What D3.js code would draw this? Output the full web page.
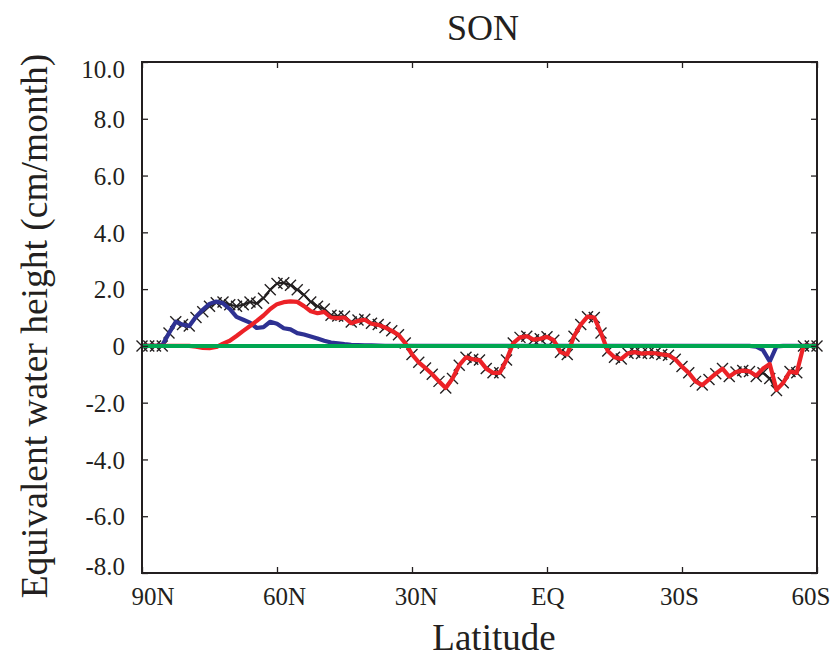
<!DOCTYPE html>
<html>
<head>
<meta charset="utf-8">
<script src="https://cdn.jsdelivr.net/npm/d3@7"></script>
<style>
  html, body { margin: 0; padding: 0; background: #fff; }
  svg { display: block; }
  text { font-family: "Liberation Serif", "Times New Roman", serif; fill: #231f20; }
</style>
</head>
<body>
<svg id="chart" width="838" height="661"></svg>
<script>
// Latitude grid: 90N to 60S every 1.5 degrees (positive = north)
const latitudes = d3.range(90, -60.001, -1.5);

// Total (black line with x markers)
const total = [
  0, 0, 0, 0, 0.45, 0.85, 0.75, 0.7, 1.0, 1.2,
  1.4, 1.52, 1.55, 1.45, 1.4, 1.45, 1.55, 1.5, 1.68, 1.98,
  2.2, 2.22, 2.14, 1.98, 1.8, 1.55, 1.4, 1.3, 1.08, 1.05,
  1.04, 0.84, 0.91, 0.94, 0.8, 0.75, 0.65, 0.53, 0.39, 0.1,
  -0.3, -0.58, -0.78, -1.0, -1.25, -1.48, -1.15, -0.68, -0.4, -0.47,
  -0.5, -0.8, -0.95, -0.95, -0.5, 0.1, 0.3, 0.34, 0.22, 0.25,
  0.32, 0.2, -0.22, -0.3, 0.34, 0.75, 1.03, 1.0, 0.45, -0.18,
  -0.4, -0.46, -0.26, -0.22, -0.27, -0.25, -0.26, -0.3, -0.33, -0.47,
  -0.73, -0.95, -1.25, -1.38, -1.18, -0.98, -0.8, -1.08, -0.92, -0.87,
  -0.9, -1.08, -0.95, -1.15, -1.57, -1.3, -0.9, -0.95, 0, 0, 0
];

// Red component
const redSeries = [
  0, 0, 0, 0, 0, 0, 0, 0, -0.03, -0.07,
  -0.08, -0.04, 0.08, 0.18, 0.35, 0.53, 0.7, 0.88, 1.07, 1.3,
  1.47, 1.54, 1.57, 1.55, 1.4, 1.22, 1.15, 1.2, 1.0, 0.98,
  1.0, 0.8, 0.88, 0.92, 0.78, 0.74, 0.65, 0.53, 0.39, 0.1,
  -0.3, -0.58, -0.78, -1.0, -1.25, -1.48, -1.15, -0.68, -0.4, -0.47,
  -0.5, -0.8, -0.95, -0.95, -0.5, 0.1, 0.3, 0.34, 0.22, 0.25,
  0.32, 0.2, -0.22, -0.3, 0.34, 0.75, 1.03, 1.0, 0.45, -0.18,
  -0.4, -0.46, -0.26, -0.22, -0.27, -0.25, -0.26, -0.3, -0.33, -0.47,
  -0.73, -0.95, -1.25, -1.38, -1.18, -0.98, -0.8, -1.08, -0.92, -0.87,
  -0.9, -1.05, -0.8, -0.64, -1.55, -1.3, -0.9, -0.95, 0, 0, 0
];

// Blue component
const blueSeries = [
  0, 0, 0, 0.02, 0.45, 0.85, 0.75, 0.7, 1.03, 1.27,
  1.48, 1.56, 1.5, 1.3, 1.02, 0.92, 0.82, 0.63, 0.66, 0.85,
  0.78, 0.62, 0.58, 0.45, 0.4, 0.33, 0.26, 0.18, 0.12, 0.09,
  0.06, 0.04, 0.03, 0.02, 0.02, 0.01, 0, 0, 0, 0,
  0, 0, 0, 0, 0, 0, 0, 0, 0, 0,
  0, 0, 0, 0, 0, 0, 0, 0, 0, 0,
  0, 0, 0, 0, 0, 0, 0, 0, 0, 0,
  0, 0, 0, 0, 0, 0, 0, 0, 0, 0,
  0, 0, 0, 0, 0, 0, 0, 0, 0, 0,
  0, -0.03, -0.15, -0.55, -0.02, 0, 0, 0, 0, 0, 0
];

// Green component
const greenSeries = [
  0, 0, 0, 0, 0, 0, 0, 0, 0, 0,
  0, 0, 0, 0, 0, 0, 0, 0, 0, 0,
  0, 0, 0, 0, 0, 0, 0, 0, 0, 0,
  0, 0, 0, 0, 0, 0, 0, 0, 0, 0,
  0, 0, 0, 0, 0, 0, 0, 0, 0, 0,
  0, 0, 0, 0, 0, 0, 0, 0, 0, 0,
  0, 0, 0, 0, 0, 0, 0, 0, 0, 0,
  0, 0, 0, 0, 0, 0, 0, 0, 0, 0,
  0, 0, 0, 0, 0, 0, 0, 0, 0, 0,
  0, 0, 0, 0, 0, 0, 0, 0, 0, 0, 0
];

const latTicks = [90, 60, 30, 0, -30, -60];
const latTickLabels = ["90N", "60N", "30N", "EQ", "30S", "60S"];
const yTicks = [10, 8, 6, 4, 2, 0, -2, -4, -6, -8];
const yTickLabels = ["10.0", "8.0", "6.0", "4.0", "2.0", "0", "-2.0", "-4.0", "-6.0", "-8.0"];

const titleText = "SON";
const xTitle = "Latitude";
const yTitle = "Equivalent water height (cm/month)";

const margin = { left: 142, right: 21, top: 62, bottom: 88 };
const W = 838, H = 661;
const svg = d3.select("#chart");

const x = d3.scaleLinear().domain([90, -60]).range([margin.left, W - margin.right]);
const y = d3.scaleLinear().domain([-8, 10]).range([H - margin.bottom, margin.top]);

const ink = "#231f20";

// Series lines
const line = vals => d3.line()
  .x((d, i) => x(latitudes[i]))
  .y(d => y(d))(vals);

const plot = svg.append("g");

plot.append("path")
  .attr("d", line(total))
  .attr("fill", "none").attr("stroke", ink).attr("stroke-width", 2.2)
  .attr("stroke-linejoin", "round");

plot.append("g").selectAll("path.mk")
  .data(total)
  .join("path")
  .attr("class", "mk")
  .attr("transform", (d, i) => `translate(${x(latitudes[i])},${y(d)})`)
  .attr("d", "M-5.5,-5.5L5.5,5.5M-5.5,5.5L5.5,-5.5")
  .attr("stroke", ink).attr("stroke-width", 1.4).attr("fill", "none");

plot.append("path")
  .attr("d", line(blueSeries))
  .attr("fill", "none").attr("stroke", "#2e3192").attr("stroke-width", 4.2)
  .attr("stroke-linejoin", "round");

plot.append("path")
  .attr("d", line(redSeries))
  .attr("fill", "none").attr("stroke", "#ec2227").attr("stroke-width", 4.2)
  .attr("stroke-linejoin", "round");

plot.append("path")
  .attr("d", line(greenSeries))
  .attr("fill", "none").attr("stroke", "#00a651").attr("stroke-width", 4);

// Axes: ticks point into the plot on all four sides
const axisStyle = g => {
  g.select(".domain").remove();
  g.selectAll(".tick line").attr("stroke", ink).attr("stroke-width", 1.3);
  g.selectAll(".tick text")
    .attr("font-family", "Liberation Serif, Times New Roman, serif")
    .attr("font-size", 25).attr("fill", ink);
};

const fmtY = v => yTickLabels[yTicks.indexOf(v)];
const fmtX = v => latTickLabels[latTicks.indexOf(v)];

svg.append("g")
  .attr("transform", `translate(${margin.left},0)`)
  .call(d3.axisLeft(y).tickValues(yTicks).tickFormat(fmtY).tickSizeInner(-6).tickSizeOuter(0).tickPadding(17))
  .call(axisStyle)
  .call(g => g.selectAll(".tick text")
    .attr("dy", (d) => d === 10 ? "0.62em" : d === -8 ? "0.05em" : "0.35em"));

svg.append("g")
  .attr("transform", `translate(${W - margin.right},0)`)
  .call(d3.axisRight(y).tickValues(yTicks).tickFormat("").tickSizeInner(-6).tickSizeOuter(0))
  .call(axisStyle);

// Latitude labels sit slightly drawn in toward the middle of the axis
const xMid = (margin.left + W - margin.right) / 2;
svg.append("g")
  .attr("transform", `translate(0,${H - margin.bottom})`)
  .call(d3.axisBottom(x).tickValues(latTicks).tickFormat(fmtX).tickSizeInner(-6).tickSizeOuter(0).tickPadding(14))
  .call(axisStyle)
  .call(g => g.selectAll(".tick text").attr("dx", d => (xMid - x(d)) * 0.025 + 2));

svg.append("g")
  .attr("transform", `translate(0,${margin.top})`)
  .call(d3.axisTop(x).tickValues(latTicks).tickFormat("").tickSizeInner(-6).tickSizeOuter(0))
  .call(axisStyle);

// Frame
svg.append("rect")
  .attr("x", margin.left).attr("y", margin.top)
  .attr("width", W - margin.right - margin.left)
  .attr("height", H - margin.bottom - margin.top)
  .attr("fill", "none").attr("stroke", ink).attr("stroke-width", 2);

// Titles
svg.append("text")
  .attr("x", 483).attr("y", 40)
  .attr("text-anchor", "middle").attr("font-size", 36)
  .text(titleText);

svg.append("text")
  .attr("x", 494).attr("y", 650)
  .attr("text-anchor", "middle").attr("font-size", 37)
  .text(xTitle);

svg.append("text")
  .attr("transform", `translate(47,${326}) rotate(-90)`)
  .attr("text-anchor", "middle").attr("font-size", 37.5)
  .text(yTitle);
</script>
</body>
</html>
